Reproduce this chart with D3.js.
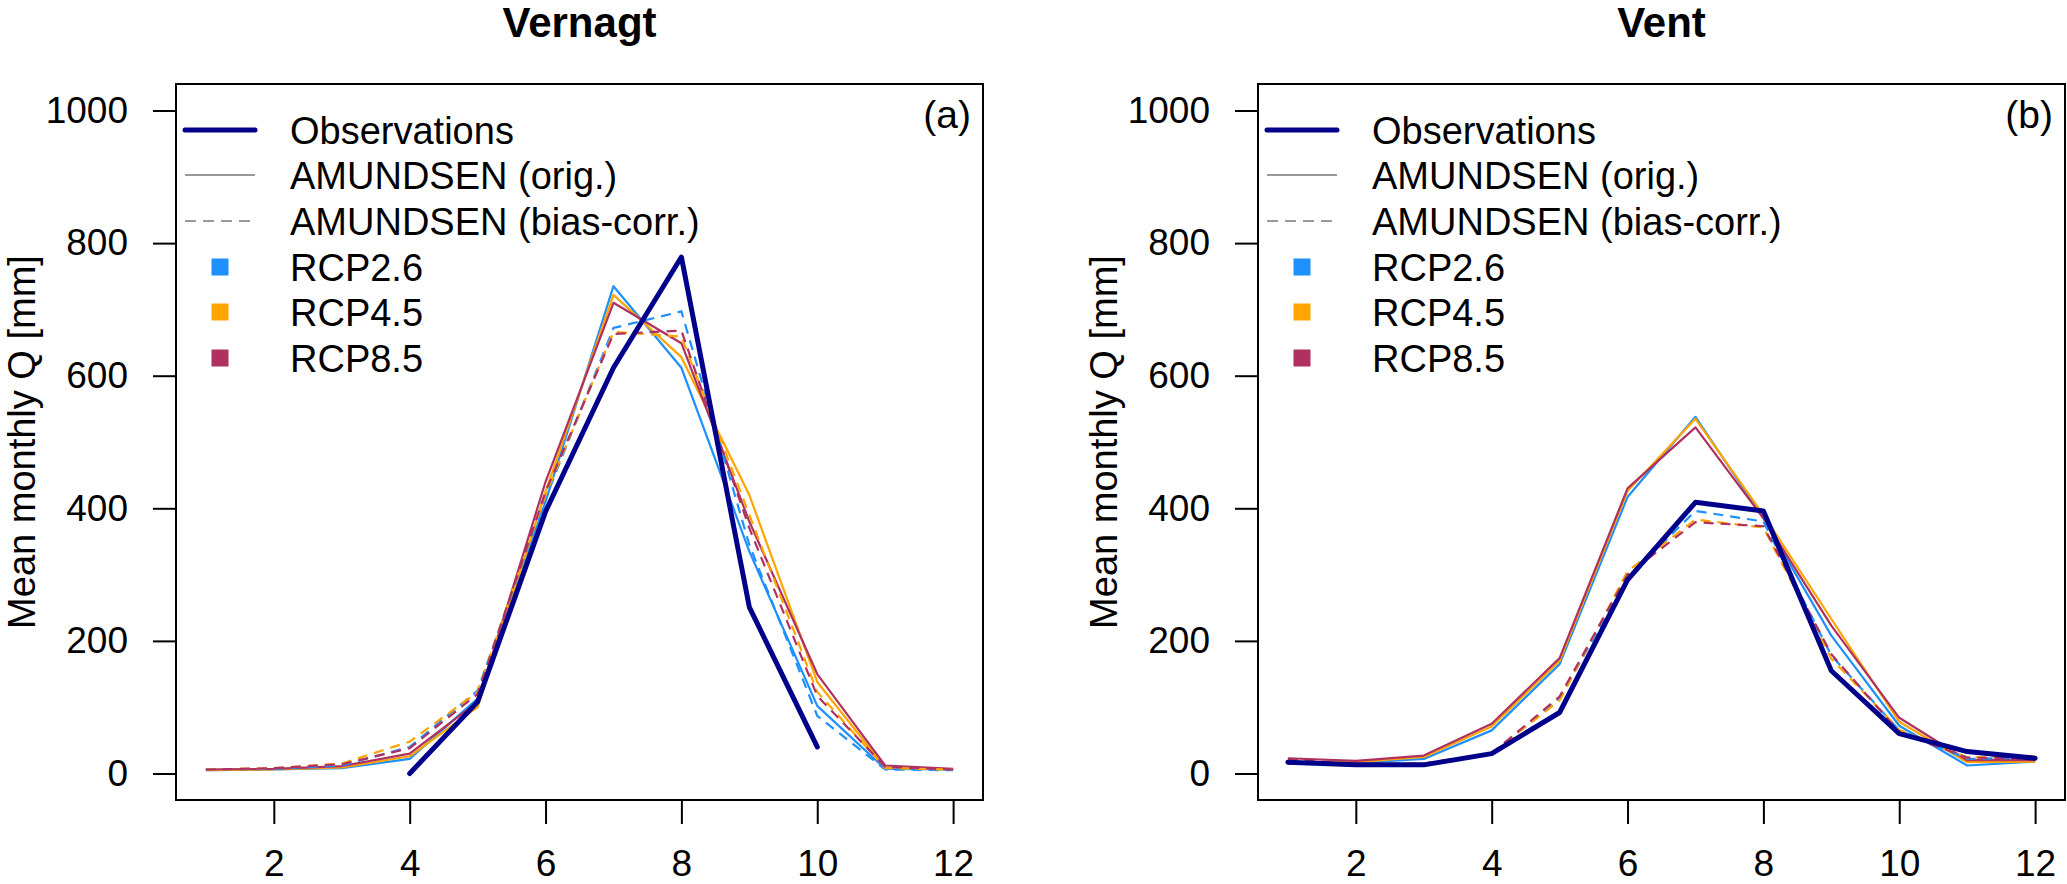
<!DOCTYPE html>
<html>
<head>
<meta charset="utf-8">
<script src="https://cdn.jsdelivr.net/npm/d3@7.9.0/dist/d3.min.js"></script>
<style>
  body { margin: 0; background: #fff; }
  svg { display: block; font-family: "Liberation Sans", Arial, sans-serif; }
</style>
</head>
<body>
<svg id="chart" width="2067" height="884"></svg>
<script>
// months on the x axis
const months = [1, 2, 3, 4, 5, 6, 7, 8, 9, 10, 11, 12];
const xTicks = [2, 4, 6, 8, 10, 12];
const yTicks = [0, 200, 400, 600, 800, 1000];

// Vernagt: mean monthly Q [mm]
const vernagtObs    = [null, null, null, 0, 108, 395, 612, 779, 251, 40, null, null];
const vernagtOrig26 = [5, 6, 8, 22, 113, 410, 735, 612, 335, 102, 7, 6];
const vernagtOrig45 = [5, 6, 9, 26, 100, 425, 722, 628, 420, 138, 9, 6];
const vernagtOrig85 = [6, 7, 11, 30, 108, 440, 710, 649, 380, 150, 12, 7];
const vernagtBias26 = [6, 7, 12, 40, 125, 415, 672, 697, 345, 87, 6, 5];
const vernagtBias45 = [6, 8, 15, 48, 123, 420, 666, 659, 390, 123, 8, 6];
const vernagtBias85 = [6, 8, 14, 38, 120, 425, 663, 668, 370, 117, 10, 6];

// Vent: mean monthly Q [mm]
const ventObs    = [17, 13, 13, 30, 92, 292, 409, 396, 155, 60, 33, 23];
const ventOrig26 = [16, 16, 22, 65, 165, 417, 538, 385, 208, 72, 12, 18];
const ventOrig45 = [17, 17, 25, 71, 170, 426, 535, 390, 233, 78, 17, 18];
const ventOrig85 = [23, 19, 27, 75, 174, 430, 522, 385, 223, 84, 20, 20];
const ventBias26 = [15, 13, 14, 30, 113, 295, 396, 380, 178, 65, 22, 24];
const ventBias45 = [16, 14, 15, 31, 110, 305, 383, 371, 173, 66, 24, 26];
const ventBias85 = [22, 14, 15, 30, 116, 300, 379, 373, 180, 62, 24, 22];

const scenarioNames = ['RCP2.6', 'RCP4.5', 'RCP8.5'];
const scenarioColors = ['#1E90FF', '#FFA500', '#B03060'];
const obsColor = '#00008B';

const panels = [
  { title: 'Vernagt', tag: '(a)', left: 176, obs: vernagtObs,
    orig: [vernagtOrig26, vernagtOrig45, vernagtOrig85],
    bias: [vernagtBias26, vernagtBias45, vernagtBias85] },
  { title: 'Vent', tag: '(b)', left: 1258, obs: ventObs,
    orig: [ventOrig26, ventOrig45, ventOrig85],
    bias: [ventBias26, ventBias45, ventBias85] }
];

const boxTop = 84, boxW = 807, boxH = 716;
const svg = d3.select('#chart');

const x = d3.scaleLinear().domain([0.56, 12.44]).range([0, boxW]);
const y = d3.scaleLinear().domain([-40, 1040]).range([boxH, 0]);

const line = d3.line()
  .defined(d => d[1] != null)
  .x(d => x(d[0]))
  .y(d => y(d[1]));

panels.forEach(p => {
  const g = svg.append('g').attr('transform', `translate(${p.left},${boxTop})`);

  // title
  g.append('text')
    .attr('x', boxW / 2).attr('y', 37 - boxTop)
    .attr('text-anchor', 'middle')
    .attr('font-size', 42).attr('font-weight', 'bold')
    .text(p.title);

  // y axis
  const yAxis = g.append('g')
    .call(d3.axisLeft(y).tickValues(yTicks).tickFormat(d3.format('d')).tickSize(23).tickPadding(25));
  yAxis.select('.domain').remove();
  yAxis.selectAll('line').attr('stroke', '#000').attr('stroke-width', 2);
  yAxis.selectAll('text').attr('font-size', 37).attr('fill', '#000')
    .attr('font-family', '"Liberation Sans", Arial, sans-serif');

  // x axis
  const xAxis = g.append('g').attr('transform', `translate(0,${boxH})`)
    .call(d3.axisBottom(x).tickValues(xTicks).tickFormat(d3.format('d')).tickSize(24).tickPadding(26));
  xAxis.select('.domain').remove();
  xAxis.selectAll('line').attr('stroke', '#000').attr('stroke-width', 2);
  xAxis.selectAll('text').attr('font-size', 37).attr('fill', '#000')
    .attr('font-family', '"Liberation Sans", Arial, sans-serif');

  // y label
  g.append('text')
    .attr('transform', `translate(${35 - 176},${boxH / 2}) rotate(-90)`)
    .attr('text-anchor', 'middle')
    .attr('font-size', 38)
    .text('Mean monthly Q [mm]');

  // model lines: orig solid, bias-corr dashed
  p.orig.forEach((vals, i) => {
    g.append('path')
      .datum(months.map((m, j) => [m, vals[j]]))
      .attr('d', line)
      .attr('fill', 'none')
      .attr('stroke', scenarioColors[i])
      .attr('stroke-width', 2.2)
      .attr('stroke-linejoin', 'round');
  });
  p.bias.forEach((vals, i) => {
    g.append('path')
      .datum(months.map((m, j) => [m, vals[j]]))
      .attr('d', line)
      .attr('fill', 'none')
      .attr('stroke', scenarioColors[i])
      .attr('stroke-width', 2.2)
      .attr('stroke-dasharray', '10,7');
  });

  // observations on top
  g.append('path')
    .datum(months.map((m, j) => [m, p.obs[j]]))
    .attr('d', line)
    .attr('fill', 'none')
    .attr('stroke', obsColor)
    .attr('stroke-width', 5)
    .attr('stroke-linejoin', 'round')
    .attr('stroke-linecap', 'round');

  // box
  g.append('rect')
    .attr('width', boxW).attr('height', boxH)
    .attr('fill', 'none').attr('stroke', '#000').attr('stroke-width', 2);

  // panel tag
  g.append('text')
    .attr('x', boxW - 12).attr('y', 128 - boxTop)
    .attr('text-anchor', 'end')
    .attr('font-size', 39)
    .text(p.tag);

  // legend
  const leg = g.append('g');
  const rowY = [130, 175, 221, 267, 312, 358].map(v => v - boxTop);
  const labels = ['Observations', 'AMUNDSEN (orig.)', 'AMUNDSEN (bias-corr.)'].concat(scenarioNames);
  leg.append('line').attr('x1', 9).attr('x2', 79).attr('y1', rowY[0]).attr('y2', rowY[0])
    .attr('stroke', obsColor).attr('stroke-width', 5).attr('stroke-linecap', 'round');
  leg.append('line').attr('x1', 9).attr('x2', 79).attr('y1', rowY[1]).attr('y2', rowY[1])
    .attr('stroke', '#999').attr('stroke-width', 2);
  leg.append('line').attr('x1', 9).attr('x2', 79).attr('y1', rowY[2]).attr('y2', rowY[2])
    .attr('stroke', '#999').attr('stroke-width', 2).attr('stroke-dasharray', '11,7');
  scenarioColors.forEach((c, i) => {
    leg.append('rect')
      .attr('x', 44 - 8.5).attr('y', rowY[3 + i] - 8.5)
      .attr('width', 17).attr('height', 17)
      .attr('fill', c);
  });
  labels.forEach((t, i) => {
    leg.append('text')
      .attr('x', 114).attr('y', rowY[i] + 13.5)
      .attr('font-size', 38)
      .text(t);
  });
});
</script>
</body>
</html>
